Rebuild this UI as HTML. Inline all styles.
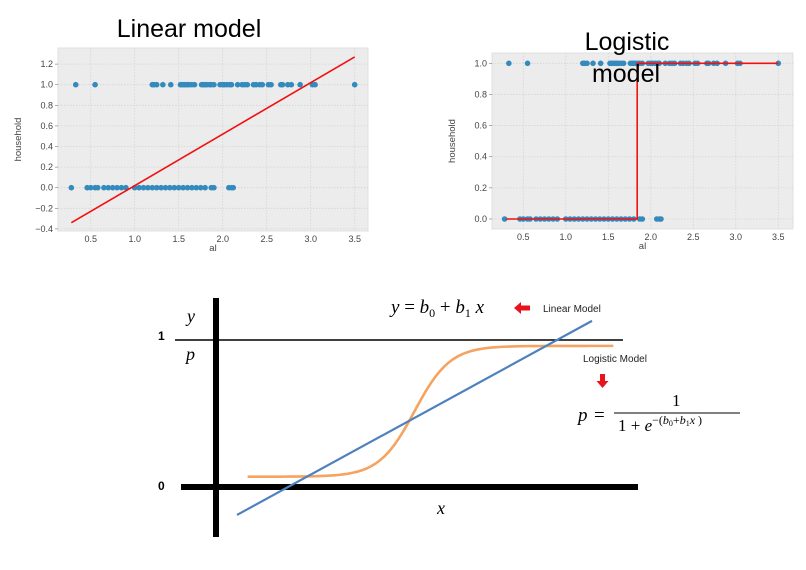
<!DOCTYPE html>
<html><head><meta charset="utf-8"><style>
html,body{margin:0;padding:0;background:#fff;}
svg{display:block;font-family:"Liberation Sans",sans-serif;}
</style></head><body>
<svg id="chart" width="806" height="570" viewBox="0 0 806 570" xmlns="http://www.w3.org/2000/svg">
<text x="189" y="37" font-size="25" text-anchor="middle">Linear model</text>
<g id="left"></g>
<g id="right"></g>
<text x="627" y="50" font-size="25" text-anchor="middle">Logistic</text>
<text x="626" y="82" font-size="25" text-anchor="middle">model</text>
<g id="diagram"></g>
</svg>
<script>
const onesX=[0.33,0.55,1.2,1.22,1.25,1.32,1.41,1.52,1.54,1.56,1.58,1.6,1.62,1.65,1.68,1.76,1.78,1.8,1.82,1.85,1.87,1.9,1.97,2.0,2.02,2.05,2.08,2.1,2.17,2.22,2.25,2.28,2.35,2.38,2.42,2.45,2.52,2.55,2.66,2.68,2.74,2.78,2.88,3.02,3.05,3.5];
const zerosX=[0.28,0.46,0.5,0.55,0.58,0.65,0.7,0.75,0.8,0.85,0.9,1.0,1.05,1.1,1.15,1.2,1.25,1.3,1.35,1.4,1.45,1.5,1.55,1.6,1.65,1.7,1.75,1.8,1.87,1.9,2.07,2.1,2.12];
const xTicks=[0.5,1.0,1.5,2.0,2.5,3.0,3.5];
const linYTicks=[-0.4,-0.2,0.0,0.2,0.4,0.6,0.8,1.0,1.2];
const logYTicks=[0.0,0.2,0.4,0.6,0.8,1.0];
const linFitX=[0.28,3.5];
const linFitY=[-0.34,1.27];
const logFitX=[0.3,1.84,1.84,3.5];
const logFitY=[0,0,1,1];
const NS="http://www.w3.org/2000/svg";
function mk(p,t,a){const e=document.createElementNS(NS,t);for(const k in a)e.setAttribute(k,a[k]);p.appendChild(e);return e;}
function panel(g,box,sx,sy,yt,fitX,fitY){
  mk(g,'rect',{x:box.x0,y:box.y0,width:box.x1-box.x0,height:box.y1-box.y0,fill:'#ececec',stroke:'#e0e0e0'});
  xTicks.forEach(v=>{const x=sx(v);
    const l=mk(g,'line',{x1:x,x2:x,y1:box.y0,y2:box.y1,stroke:'#d4d4d4','stroke-dasharray':'1.5,1.5','stroke-width':0.8});
    
    const t=mk(g,'text',{x:x,y:box.y1+11,'font-size':9,'text-anchor':'middle',fill:'#444'});t.textContent=v.toFixed(1);
    });
  yt.forEach(v=>{const y=sy(v);
    const l=mk(g,'line',{x1:box.x0,x2:box.x1,y1:y,y2:y,stroke:'#d4d4d4','stroke-dasharray':'1.5,1.5','stroke-width':0.8});
    
    mk(g,'line',{x1:box.x0-3,x2:box.x0,y1:y,y2:y,stroke:'#777','stroke-width':0.6});
    const t=mk(g,'text',{x:box.x0-5,y:y+3,'font-size':9,'text-anchor':'end',fill:'#444'});t.textContent=(v<0?'\u2212':'')+Math.abs(v).toFixed(1);
    });
  onesX.forEach(v=>{const c=mk(g,'circle',{cx:sx(v),cy:sy(1),r:2.8,fill:'#348abd'});
    });
  zerosX.forEach(v=>{const c=mk(g,'circle',{cx:sx(v),cy:sy(0),r:2.8,fill:'#348abd'});
    });
  const pl=mk(g,'polyline',{points:fitX.map((v,i)=>sx(v)+','+sy(fitY[i])).join(' '),fill:'none',stroke:'#f21010','stroke-width':1.6});
  
  const xl=mk(g,'text',{x:(box.x0+box.x1)/2,y:box.y1+20,'font-size':9.5,'text-anchor':'middle',fill:'#444'});xl.textContent='al';
  
  const cy=(box.y0+box.y1)/2;const yl=mk(g,'text',{x:box.x0-37,y:cy,'font-size':9.5,'text-anchor':'middle',fill:'#444',transform:`rotate(-90 ${box.x0-37} ${cy})`});yl.textContent='household';
  
}
panel(document.getElementById('left'),{x0:58,x1:368,y0:48,y1:231},v=>90.7+(v-0.5)*88,v=>187.7-v*103,linYTicks,linFitX,linFitY);
panel(document.getElementById('right'),{x0:492,x1:793,y0:53,y1:229},v=>523.3+(v-0.5)*85,v=>219-v*155.7,logYTicks,logFitX,logFitY);
const d=document.getElementById('diagram');
const diagLinX=[0,1];const diagLinY=[-0.19,1.13];
const sgK=20, sgC=0.5, sgLo=0.07, sgHi=0.96;
const dx=v=>237+v*355, dy=v=>487-v*147;
let e;
e=mk(d,'line',{x1:175,x2:623,y1:340,y2:340,stroke:'#000','stroke-width':1.5});
e=mk(d,'line',{x1:181,x2:638,y1:487,y2:487,stroke:'#000','stroke-width':6});
e=mk(d,'line',{x1:216,x2:216,y1:298,y2:537,stroke:'#000','stroke-width':6});
let pts=[];for(let i=0;i<=80;i++){const u=0.03+i*(1.06-0.03)/80;const p=sgLo+(sgHi-sgLo)/(1+Math.exp(-sgK*(u-sgC)));pts.push(dx(u)+','+dy(p));}
e=mk(d,'polyline',{points:pts.join(' '),fill:'none',stroke:'#f4a460','stroke-width':2.6});
e=mk(d,'line',{x1:dx(diagLinX[0]),y1:dy(diagLinY[0]),x2:dx(diagLinX[1]),y2:dy(diagLinY[1]),stroke:'#4f81bd','stroke-width':2.2});
</script>
<svg width="806" height="570" style="position:absolute;left:0;top:0" xmlns="http://www.w3.org/2000/svg">
<g font-family="Liberation Serif,serif" font-style="italic">
<text x="158" y="340" font-size="12" font-weight="bold" font-style="normal" font-family="Liberation Sans,sans-serif">1</text>
<text x="158" y="490" font-size="12" font-weight="bold" font-style="normal" font-family="Liberation Sans,sans-serif">0</text>
<text x="187" y="322" font-size="18">y</text>
<text x="186" y="360" font-size="18">p</text>
<text x="437" y="514" font-size="18">x</text>
<text x="391" y="313" font-size="19">y <tspan font-style="normal">= </tspan>b<tspan font-size="12" dy="4" font-style="normal">0</tspan><tspan dy="-4" font-style="normal"> + </tspan>b<tspan font-size="12" dy="4" font-style="normal">1</tspan><tspan dy="-4"> x</tspan></text>
<text x="578" y="421" font-size="19">p</text>
<text x="594" y="421" font-size="19" font-style="normal">=</text>
<text x="672" y="406" font-size="17" font-style="normal">1</text>
<text x="618" y="431" font-size="17" font-style="normal">1 + <tspan font-style="italic">e</tspan><tspan font-size="12" dy="-7">−(<tspan font-style="italic">b</tspan><tspan font-size="8" dy="2">0</tspan><tspan dy="-2">+</tspan><tspan font-style="italic">b</tspan><tspan font-size="8" dy="2">1</tspan><tspan dy="-2" font-style="italic">x</tspan> )</tspan></text>
</g>
<line x1="614" y1="413" x2="740" y2="413" stroke="#000" stroke-width="1"/>
<text x="543" y="312" font-size="10" font-family="Liberation Sans,sans-serif" fill="#222">Linear Model</text>
<text x="583" y="362" font-size="10" font-family="Liberation Sans,sans-serif" fill="#222">Logistic Model</text>
<polygon points="514,308 521,302 521,305.5 530,305.5 530,310.5 521,310.5 521,314" fill="#e8141c"/>
<polygon points="600,374 605,374 605,381 608.5,381 602.5,388 596.5,381 600,381" fill="#e8141c"/>
</svg>
</body></html>
